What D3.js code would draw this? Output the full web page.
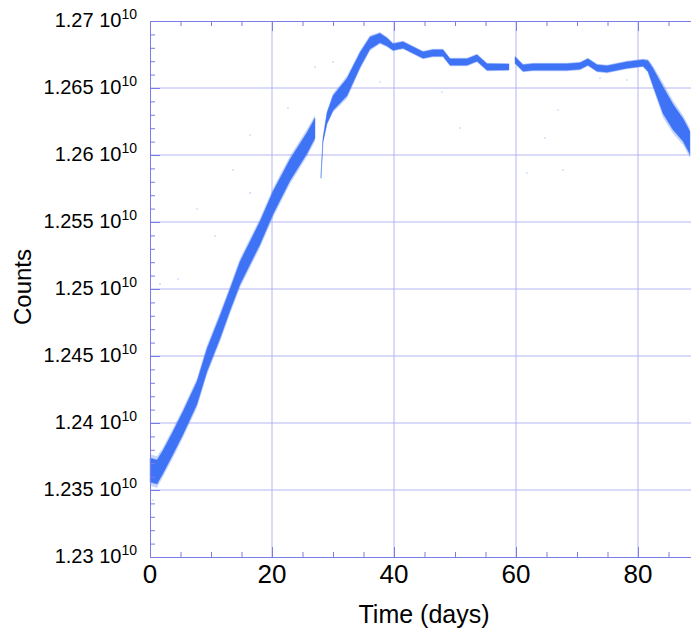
<!DOCTYPE html>
<html>
<head>
<meta charset="utf-8">
<script src="https://cdn.jsdelivr.net/npm/d3@7"></script>
<style>
  body { margin: 0; background: #fff; }
  svg { display: block; font-family: "Liberation Sans", Arial, Helvetica, sans-serif; }
</style>
</head>
<body>
<script>
// Counts in units of 1e10
// band centre (value) and half-spread (spread) for each of the three runs
const seg1Days   = [0, 1.15, 2.13, 3.77, 5.41, 7.70, 9.34, 11.48, 13.11, 14.75, 18.03, 20.16, 22.95, 25.74, 27.05];
const seg1Values = [1.23649, 1.23634, 1.23709, 1.23851, 1.24000, 1.24224, 1.24470, 1.24716, 1.24918, 1.25119, 1.25418, 1.25642, 1.25888, 1.26090, 1.26201];
const seg1Spread = [0.0009, 0.0009, 0.00085, 0.00085, 0.00085, 0.00085, 0.00085, 0.00085, 0.0008, 0.00085, 0.00085, 0.00085, 0.0008, 0.00078, 0.00075];

const seg2Days   = [28.03, 28.36, 29.02, 30.0, 32.30, 34.43, 36.07, 37.70, 38.85, 39.84, 41.48, 43.11, 44.75, 46.39, 48.03, 49.18, 51.97, 53.61, 55.25, 58.85];
const seg2Values = [1.25836, 1.26112, 1.26276, 1.26388, 1.26507, 1.26709, 1.26836, 1.26873, 1.26843, 1.26806, 1.26821, 1.26784, 1.26746, 1.26761, 1.26761, 1.26694, 1.26694, 1.26724, 1.26657, 1.26657];
const seg2Spread = [0.0001, 0.00015, 0.0004, 0.00055, 0.00065, 0.00055, 0.00045, 0.00035, 0.0003, 0.00024, 0.00024, 0.00024, 0.00024, 0.00024, 0.00024, 0.00024, 0.00024, 0.00024, 0.00024, 0.00022];

const seg3Days   = [59.84, 61.15, 62.79, 65.57, 68.36, 70.49, 71.80, 73.28, 74.92, 78.20, 80.82, 81.64, 82.46, 84.10, 85.74, 87.38, 88.52];
const seg3Values = [1.26709, 1.26649, 1.26657, 1.26657, 1.26657, 1.26664, 1.26694, 1.26649, 1.26642, 1.26672, 1.26687, 1.26664, 1.26582, 1.26410, 1.26284, 1.26187, 1.26090];
const seg3Spread = [0.00024, 0.00024, 0.00024, 0.00024, 0.00024, 0.00024, 0.00024, 0.00024, 0.00024, 0.00024, 0.00024, 0.0004, 0.00065, 0.001, 0.00095, 0.00085, 0.00085];

// a few stray points away from the band
const strayDays   = [0.5, 1.64, 4.59, 7.70, 10.66, 13.61, 16.39, 16.39, 22.62, 27.05, 30.0, 37.70, 47.87, 50.82, 61.80, 64.75, 66.89, 67.70, 73.77, 78.20];
const strayValues = [1.23425, 1.25038, 1.25075, 1.25597, 1.25396, 1.25888, 1.26149, 1.25717, 1.26351, 1.26657, 1.26694, 1.26545, 1.26470, 1.26202, 1.25866, 1.26127, 1.26336, 1.25888, 1.26575, 1.2656];

const yMajor = [1.23, 1.235, 1.24, 1.245, 1.25, 1.255, 1.26, 1.265, 1.27];
const yLabels = ["1.23", "1.235", "1.24", "1.245", "1.25", "1.255", "1.26", "1.265", "1.27"];
const xMajor = [0, 20, 40, 60, 80];

const width = 691;
const height = 631;
const marginTop = 21;
const marginBottom = 74;
const marginLeft = 150;

const x = d3.scaleLinear().domain([0, 88.7]).range([marginLeft, marginLeft + 88.7 * 6.1]);
const y = d3.scaleLinear().domain([1.23, 1.27]).range([height - marginBottom, marginTop]);

const frameColor = "#7c7ce6";
const gridColor = "#b4b4f2";
const pointColor = "#3f73f6";

const svg = d3.select("body").append("svg")
    .attr("width", width)
    .attr("height", height);

svg.append("rect").attr("width", width).attr("height", height).attr("fill", "#fff");

// GRID
svg.append("g")
    .selectAll("line")
    .data(yMajor.slice(1, -1))
    .join("line")
    .attr("x1", x(0)).attr("x2", x(88.7))
    .attr("y1", d => y(d)).attr("y2", d => y(d))
    .attr("stroke", gridColor).attr("stroke-width", 1);

svg.append("g")
    .selectAll("line")
    .data(xMajor.slice(1))
    .join("line")
    .attr("x1", d => x(d)).attr("x2", d => x(d))
    .attr("y1", y(1.23)).attr("y2", y(1.27))
    .attr("stroke", gridColor).attr("stroke-width", 1);

// DATA BAND
function rows(days, values, spread) {
    return days.map((d, i) => ({ day: d, v: values[i], s: spread[i] }));
}
const band = k => d3.area()
    .x(d => x(d.day))
    .y0(d => y(d.v - d.s * k))
    .y1(d => y(d.v + d.s * k));

const segments = [
    rows(seg1Days, seg1Values, seg1Spread),
    rows(seg2Days, seg2Values, seg2Spread),
    rows(seg3Days, seg3Values, seg3Spread)
];

// faint outer fringe, then the dense core
segments.forEach(seg => {
    svg.append("path")
        .datum(seg)
        .attr("d", band(1.3))
        .attr("fill", pointColor)
        .attr("opacity", 0.3);
    svg.append("path")
        .datum(seg)
        .attr("d", band(1))
        .attr("fill", pointColor)
        .attr("stroke", pointColor)
        .attr("stroke-opacity", 0.4)
        .attr("stroke-width", 1);
});

svg.append("g")
    .selectAll("circle")
    .data(strayDays.map((d, i) => [d, strayValues[i]]))
    .join("circle")
    .attr("cx", d => x(d[0]))
    .attr("cy", d => y(d[1]))
    .attr("r", 0.8)
    .attr("fill", pointColor)
    .attr("opacity", 0.4);

// AXES (ticks point inward)
const yMinor = d3.range(1.231, 1.2700001, 0.001).filter(v => Math.round(v * 1000) % 5 !== 0);
const xMinor = d3.range(5, 88, 5).filter(v => v % 20 !== 0);

function styleAxis(g) {
    g.select(".domain").attr("stroke", frameColor);
    g.selectAll(".tick line").attr("stroke", frameColor);
}

svg.append("g").attr("transform", `translate(${x(0)},0)`)
    .call(d3.axisLeft(y).tickValues(yMajor).tickSize(-10).tickSizeOuter(0).tickFormat(""))
    .call(styleAxis);
svg.append("g").attr("transform", `translate(${x(0)},0)`)
    .call(d3.axisLeft(y).tickValues(yMinor).tickSize(-5).tickSizeOuter(0).tickFormat(""))
    .call(styleAxis);

svg.append("g").attr("transform", `translate(0,${y(1.23)})`)
    .call(d3.axisBottom(x).tickValues(xMajor).tickSize(-10).tickSizeOuter(0).tickFormat(""))
    .call(styleAxis);
svg.append("g").attr("transform", `translate(0,${y(1.23)})`)
    .call(d3.axisBottom(x).tickValues(xMinor).tickSize(-5).tickSizeOuter(0).tickFormat(""))
    .call(styleAxis);

svg.append("g").attr("transform", `translate(0,${y(1.27)})`)
    .call(d3.axisTop(x).tickValues(xMajor).tickSize(-10).tickSizeOuter(0).tickFormat(""))
    .call(styleAxis);
svg.append("g").attr("transform", `translate(0,${y(1.27)})`)
    .call(d3.axisTop(x).tickValues(xMinor).tickSize(-5).tickSizeOuter(0).tickFormat(""))
    .call(styleAxis);

// TICK LABELS
const yText = svg.append("g")
    .selectAll("text")
    .data(yMajor)
    .join("text")
    .attr("x", 137)
    .attr("y", d => y(d) + 6)
    .attr("text-anchor", "end")
    .attr("font-size", 20)
    .attr("fill", "#000");
yText.append("tspan").text((d, i) => yLabels[i] + " 10");
yText.append("tspan").attr("dy", -8).attr("font-size", 14).text("10");

svg.append("g")
    .selectAll("text")
    .data(xMajor)
    .join("text")
    .attr("x", d => x(d))
    .attr("y", 583)
    .attr("text-anchor", "middle")
    .attr("font-size", 26)
    .attr("fill", "#000")
    .text(d => d);

// AXIS TITLES
svg.append("text")
    .attr("transform", "translate(31,287) rotate(-90)")
    .attr("text-anchor", "middle")
    .attr("font-size", 24)
    .text("Counts");

svg.append("text")
    .attr("x", 424)
    .attr("y", 623)
    .attr("text-anchor", "middle")
    .attr("font-size", 25)
    .text("Time (days)");
</script>
</body>
</html>
